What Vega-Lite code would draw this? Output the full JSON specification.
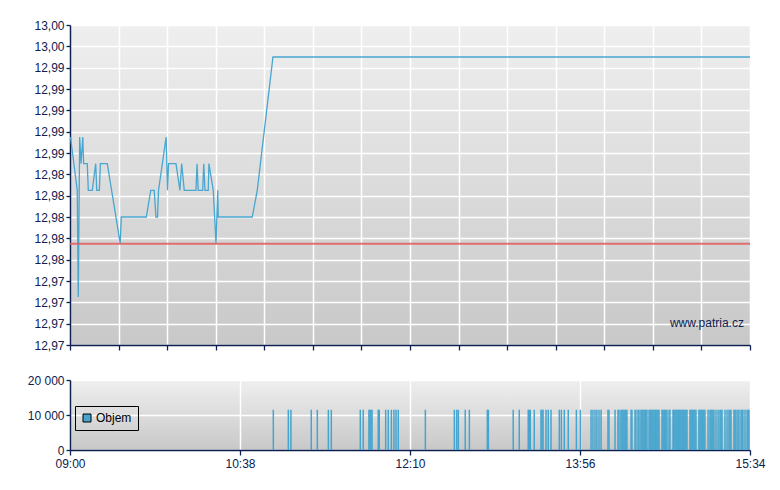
{
  "$schema": "https://vega.github.io/schema/vega-lite/v6.json",
  "padding": {"left": 26, "top": 19, "right": 5, "bottom": 5},
  "spacing": 23,
  "config": {
    "font": "Liberation Sans",
    "view": {"stroke": null, "fill": {"gradient": "linear", "x1": 0, "y1": 0, "x2": 0, "y2": 1, "stops": [{"offset": 0, "color": "#efefef"}, {"offset": 1, "color": "#c8c8c8"}]}},
    "axis": {"domainColor": "#0d2150", "tickColor": "#0d2150", "labelColor": "#0d2150", "labelFont": "Liberation Sans", "labelFontSize": 12, "gridColor": "#ffffff", "gridWidth": 1.5, "gridOpacity": 1, "title": null, "domainWidth": 1.5, "tickWidth": 1.3, "labelPadding": 2},
    "axisY": {"minExtent": 44, "maxExtent": 44}
  },
  "datasets": {
    "price": [
      {"t": 0.3, "p": 12.9875}, {"t": 4.2, "p": 12.9825}, {"t": 4.8, "p": 12.9725}, {"t": 5.6, "p": 12.9875},
      {"t": 6.4, "p": 12.985}, {"t": 7.4, "p": 12.9875}, {"t": 7.9, "p": 12.985}, {"t": 10.0, "p": 12.985},
      {"t": 10.6, "p": 12.9825}, {"t": 12.9, "p": 12.9825}, {"t": 14.9, "p": 12.985}, {"t": 15.5, "p": 12.9825},
      {"t": 17.0, "p": 12.9825}, {"t": 17.6, "p": 12.985}, {"t": 21.6, "p": 12.985}, {"t": 29.1, "p": 12.9775},
      {"t": 29.7, "p": 12.98}, {"t": 44.2, "p": 12.98}, {"t": 46.8, "p": 12.9825}, {"t": 48.8, "p": 12.9825},
      {"t": 49.8, "p": 12.98}, {"t": 50.7, "p": 12.98}, {"t": 51.3, "p": 12.9825}, {"t": 55.7, "p": 12.9875},
      {"t": 56.5, "p": 12.9825}, {"t": 57.1, "p": 12.985}, {"t": 61.4, "p": 12.985}, {"t": 63.7, "p": 12.9825},
      {"t": 64.7, "p": 12.985}, {"t": 66.2, "p": 12.9825}, {"t": 73.0, "p": 12.9825}, {"t": 73.6, "p": 12.985},
      {"t": 74.3, "p": 12.9825}, {"t": 76.9, "p": 12.9825}, {"t": 77.5, "p": 12.985}, {"t": 78.2, "p": 12.9825},
      {"t": 80.1, "p": 12.9825}, {"t": 80.5, "p": 12.985}, {"t": 83.0, "p": 12.9825}, {"t": 84.6, "p": 12.9775},
      {"t": 85.6, "p": 12.9825}, {"t": 85.9, "p": 12.98}, {"t": 105.6, "p": 12.98}, {"t": 108.5, "p": 12.9825},
      {"t": 117.6, "p": 12.995}, {"t": 394, "p": 12.995}
    ],
    "vol": [
      {"t": 117.8, "v": 11500}, {"t": 126.5, "v": 11500}, {"t": 128.0, "v": 11500}, {"t": 139.8, "v": 11500},
      {"t": 143.3, "v": 11500}, {"t": 149.7, "v": 11500}, {"t": 151.4, "v": 11500}, {"t": 168.2, "v": 11500},
      {"t": 169.9, "v": 11500}, {"t": 173.2, "v": 11500}, {"t": 173.8, "v": 11500}, {"t": 174.4, "v": 11500},
      {"t": 175.0, "v": 11500}, {"t": 178.6, "v": 11500}, {"t": 179.2, "v": 11500}, {"t": 182.9, "v": 11500},
      {"t": 184.4, "v": 11500}, {"t": 186.2, "v": 11500}, {"t": 187.7, "v": 11500}, {"t": 188.9, "v": 11500},
      {"t": 190.2, "v": 11500}, {"t": 205.9, "v": 11500}, {"t": 222.7, "v": 11500}, {"t": 224.1, "v": 11500},
      {"t": 225.0, "v": 11500}, {"t": 229.0, "v": 11500}, {"t": 231.4, "v": 11500}, {"t": 241.8, "v": 11500},
      {"t": 242.4, "v": 11500}, {"t": 256.8, "v": 11500}, {"t": 260.3, "v": 11500}, {"t": 265.5, "v": 11500},
      {"t": 266.1, "v": 11500}, {"t": 266.7, "v": 11500}, {"t": 269.0, "v": 11500}, {"t": 272.9, "v": 11500},
      {"t": 273.5, "v": 11500}, {"t": 274.1, "v": 11500}, {"t": 275.8, "v": 11500}, {"t": 277.1, "v": 11500},
      {"t": 278.7, "v": 11500}, {"t": 283.5, "v": 11500}, {"t": 284.7, "v": 11500}, {"t": 286.4, "v": 11500},
      {"t": 288.7, "v": 11500}, {"t": 293.4, "v": 11500}, {"t": 295.7, "v": 11500}, {"t": 301.9, "v": 11500},
      {"t": 303.0, "v": 11500}, {"t": 304.2, "v": 11500}, {"t": 305.3, "v": 11500}, {"t": 306.5, "v": 11500},
      {"t": 307.7, "v": 11500}, {"t": 311.7, "v": 11500}, {"t": 312.3, "v": 11500}, {"t": 315.8, "v": 11500},
      {"t": 317.5, "v": 11500}, {"t": 318.1, "v": 11500}, {"t": 319.2, "v": 11500}, {"t": 319.8, "v": 11500},
      {"t": 320.4, "v": 11500}, {"t": 321.0, "v": 11500}, {"t": 321.6, "v": 11500}, {"t": 322.1, "v": 11500},
      {"t": 322.7, "v": 11500}, {"t": 325.1, "v": 11500}, {"t": 325.6, "v": 11500}, {"t": 327.4, "v": 11500},
      {"t": 327.9, "v": 11500}, {"t": 329.1, "v": 11500}, {"t": 329.7, "v": 11500}, {"t": 330.8, "v": 11500},
      {"t": 331.4, "v": 11500}, {"t": 332.0, "v": 11500}, {"t": 332.6, "v": 11500}, {"t": 333.2, "v": 11500},
      {"t": 333.7, "v": 11500}, {"t": 334.3, "v": 11500}, {"t": 335.5, "v": 11500}, {"t": 336.1, "v": 11500},
      {"t": 336.6, "v": 11500}, {"t": 337.2, "v": 11500}, {"t": 337.8, "v": 11500}, {"t": 338.4, "v": 11500},
      {"t": 339.0, "v": 11500}, {"t": 339.5, "v": 11500}, {"t": 340.1, "v": 11500}, {"t": 340.7, "v": 11500},
      {"t": 341.3, "v": 11500}, {"t": 343.0, "v": 11500}, {"t": 343.6, "v": 11500}, {"t": 344.2, "v": 11500},
      {"t": 344.7, "v": 11500}, {"t": 345.3, "v": 11500}, {"t": 345.9, "v": 11500}, {"t": 347.1, "v": 11500},
      {"t": 347.6, "v": 11500}, {"t": 349.4, "v": 11500}, {"t": 349.9, "v": 11500}, {"t": 350.5, "v": 11500},
      {"t": 351.1, "v": 11500}, {"t": 351.7, "v": 11500}, {"t": 352.3, "v": 11500}, {"t": 352.8, "v": 11500},
      {"t": 353.4, "v": 11500}, {"t": 354.0, "v": 11500}, {"t": 354.6, "v": 11500}, {"t": 355.2, "v": 11500},
      {"t": 355.7, "v": 11500}, {"t": 356.3, "v": 11500}, {"t": 356.9, "v": 11500}, {"t": 357.5, "v": 11500},
      {"t": 359.2, "v": 11500}, {"t": 359.8, "v": 11500}, {"t": 360.4, "v": 11500}, {"t": 360.9, "v": 11500},
      {"t": 361.5, "v": 11500}, {"t": 362.1, "v": 11500}, {"t": 362.7, "v": 11500}, {"t": 364.4, "v": 11500},
      {"t": 365.0, "v": 11500}, {"t": 365.6, "v": 11500}, {"t": 366.2, "v": 11500}, {"t": 366.7, "v": 11500},
      {"t": 367.3, "v": 11500}, {"t": 367.9, "v": 11500}, {"t": 369.7, "v": 11500}, {"t": 370.8, "v": 11500},
      {"t": 371.4, "v": 11500}, {"t": 372.0, "v": 11500}, {"t": 372.6, "v": 11500}, {"t": 373.1, "v": 11500},
      {"t": 374.3, "v": 11500}, {"t": 375.5, "v": 11500}, {"t": 376.6, "v": 11500}, {"t": 377.2, "v": 11500},
      {"t": 377.8, "v": 11500}, {"t": 379.5, "v": 11500}, {"t": 380.7, "v": 11500}, {"t": 381.8, "v": 11500},
      {"t": 382.4, "v": 11500}, {"t": 383.0, "v": 11500}, {"t": 384.7, "v": 11500}, {"t": 385.3, "v": 11500},
      {"t": 385.9, "v": 11500}, {"t": 387.0, "v": 11500}, {"t": 387.6, "v": 11500}, {"t": 388.8, "v": 11500},
      {"t": 389.4, "v": 11500}, {"t": 389.9, "v": 11500}, {"t": 391.1, "v": 11500}, {"t": 392.3, "v": 11500},
      {"t": 392.9, "v": 11500}, {"t": 393.4, "v": 11500}
    ]
  },
  "vconcat": [
    {
      "width": 680,
      "height": 320,
      "layer": [
        {
          "data": {"name": "price"},
          "mark": {"type": "line", "color": "#48a6d0", "strokeWidth": 1.3},
          "encoding": {
            "x": {"field": "t", "type": "quantitative", "scale": {"domain": [0, 394], "nice": false, "zero": false, "padding": 0},
                  "axis": {"values": [0, 28.143, 56.286, 84.429, 112.571, 140.714, 168.857, 197, 225.143, 253.286, 281.429, 309.571, 337.714, 365.857, 394], "tickCount": 30, "labels": false, "tickSize": 5, "grid": true, "title": null}},
            "y": {"field": "p", "type": "quantitative", "scale": {"domain": [12.968, 12.998], "nice": false, "zero": false},
                  "axis": {"values": [12.968, 12.97, 12.972, 12.974, 12.976, 12.978, 12.98, 12.982, 12.984, 12.986, 12.988, 12.99, 12.992, 12.994, 12.996, 12.998], "tickCount": 30, "labelExpr": "replace(format(datum.value, '.2f'), '.', ',')", "labelOverlap": false, "grid": true, "tickSize": 4, "title": null}}
          }
        },
        {
          "data": {"values": [{}]},
          "mark": {"type": "rule", "color": "#e05a5a", "strokeWidth": 2, "opacity": 0.85},
          "encoding": {"y": {"datum": 12.9775, "type": "quantitative"}}
        },
        {
          "data": {"values": [{}]},
          "mark": {"type": "text", "align": "right", "baseline": "middle", "fontSize": 12, "color": "#0d2150", "font": "Liberation Sans"},
          "encoding": {"x": {"datum": 390.5, "type": "quantitative"}, "y": {"datum": 12.97006, "type": "quantitative"}, "text": {"value": "www.patria.cz"}}
        }
      ]
    },
    {
      "width": 680,
      "height": 70,
      "data": {"name": "vol"},
      "mark": {"type": "bar", "size": 1.5},
      "encoding": {
        "x": {"field": "t", "type": "quantitative", "scale": {"domain": [0, 394], "nice": false, "zero": false, "padding": 0},
              "axis": {"values": [0, 98.5, 197, 295.5, 394], "tickCount": 30, "labelExpr": "datum.value < 50 ? '09:00' : datum.value < 150 ? '10:38' : datum.value < 250 ? '12:10' : datum.value < 350 ? '13:56' : '15:34'", "tickSize": 5, "grid": true, "labelFlush": false, "labelOverlap": false, "labelPadding": 3, "title": null}},
        "y": {"field": "v", "type": "quantitative", "scale": {"domain": [0, 20000], "nice": false},
              "axis": {"values": [0, 10000, 20000], "tickCount": 30, "labelExpr": "replace(format(datum.value, ','), ',', ' ')", "labelOverlap": false, "grid": true, "tickSize": 4, "title": null}},
        "color": {"datum": "Objem", "type": "nominal", "scale": {"range": ["#45a5cf"]},
                  "legend": {"orient": "none", "legendX": 5, "legendY": 381, "title": null, "strokeColor": "#000000", "padding": 6, "labelOffset": 3, "symbolType": "square", "symbolStrokeColor": "#000000", "symbolStrokeWidth": 1, "symbolSize": 64, "labelFontSize": 12, "labelColor": "#000000", "labelFont": "Liberation Sans"}}
      }
    }
  ]
}
